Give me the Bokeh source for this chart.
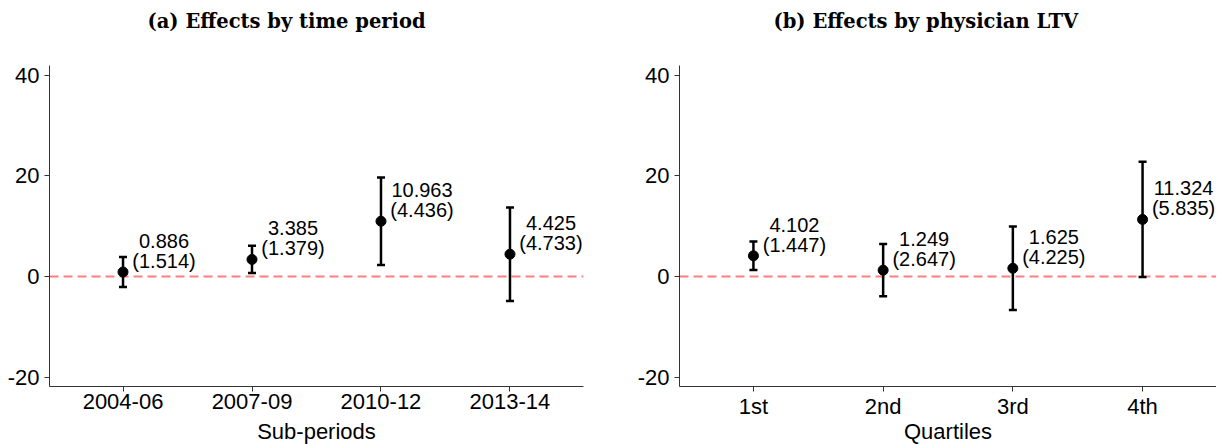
from bokeh.plotting import figure
from bokeh.layouts import row
from bokeh.models import (ColumnDataSource, Range1d, FixedTicker, Span, Whisker,
                          TeeHead, LabelSet, Title)
from bokeh.core.properties import value
from bokeh.embed import file_html
from bokeh.resources import INLINE

# ---- data ----
periods = ["2004-06", "2007-09", "2010-12", "2013-14"]
period_coef = [0.886, 3.385, 10.963, 4.425]
period_se = [1.514, 1.379, 4.436, 4.733]

quartiles = ["1st", "2nd", "3rd", "4th"]
ltv_coef = [4.102, 1.249, 1.625, 11.324]
ltv_se = [1.447, 2.647, 4.225, 5.835]

y_ticks = [-20, 0, 20, 40]
y_tick_labels = ["-20", "0", "20", "40"]
titles = ["(a) Effects by time period", "(b) Effects by physician LTV"]
xlabels = ["Sub-periods", "Quartiles"]
Z = 1.96

SANS = "Liberation Sans"
AXIS_COLOR = "#333333"
FRAME_H = 321
TOP, BOTTOM = 65, 58


def make_panel(cats, coef, se, title, xlabel, frame_w, border_left, border_right,
               title_offset, xlabel_standoff):
    xs = list(range(1, len(cats) + 1))
    src = ColumnDataSource(dict(
        x=xs,
        coef=coef,
        lower=[c - Z * s for c, s in zip(coef, se)],
        upper=[c + Z * s for c, s in zip(coef, se)],
        coef_txt=[f"{c:.3f}" for c in coef],
        se_txt=[f"({s:.3f})" for s in se],
    ))
    p = figure(frame_width=frame_w, frame_height=FRAME_H,
               min_border_left=border_left, min_border_right=border_right,
               min_border_top=TOP, min_border_bottom=BOTTOM,
               x_range=Range1d(0.43, 4.57), y_range=Range1d(-21.85, 41.9),
               toolbar_location=None, output_backend="svg")
    p.grid.visible = False
    p.outline_line_color = None
    p.background_fill_color = "white"
    p.border_fill_color = "white"

    # spacer (closest to the frame) then the panel title above it
    p.add_layout(Title(text=" ", text_font_size="10px", standoff=20), "above")
    p.add_layout(Title(text=title, text_font="DejaVu Serif", text_font_style="bold",
                       text_font_size="19.5px", text_color="black", align="left",
                       offset=title_offset, standoff=0), "above")

    for ax in (p.xaxis, p.yaxis):
        ax.axis_line_color = AXIS_COLOR
        ax.axis_line_width = 1
        ax.major_tick_line_color = AXIS_COLOR
        ax.major_tick_out = 5
        ax.major_tick_in = 0
        ax.minor_tick_line_color = None
        ax.major_label_text_font = SANS
        ax.major_label_text_font_size = "22px"
        ax.major_label_text_color = "black"
    p.xaxis.major_label_standoff = 2
    p.yaxis.major_label_standoff = 5
    p.yaxis.ticker = FixedTicker(ticks=y_ticks)
    p.yaxis.major_label_overrides = {t: s for t, s in zip(y_ticks, y_tick_labels)}
    p.xaxis.ticker = FixedTicker(ticks=xs)
    p.xaxis.major_label_overrides = {x: c for x, c in zip(xs, cats)}
    p.xaxis.axis_label = xlabel
    p.xaxis.axis_label_text_font = SANS
    p.xaxis.axis_label_text_font_size = "22px"
    p.xaxis.axis_label_text_font_style = "normal"
    p.xaxis.axis_label_text_color = "black"
    p.xaxis.axis_label_standoff = xlabel_standoff

    p.add_layout(Span(location=0, dimension="width", line_color="#ff7f7f",
                      line_width=2, line_dash="9 5", level="underlay"))
    p.add_layout(Whisker(source=src, base="x", upper="upper", lower="lower",
                         dimension="height", line_color="black", line_width=2.5,
                         upper_head=TeeHead(size=8, line_width=2.5, line_color="black"),
                         lower_head=TeeHead(size=8, line_width=2.5, line_color="black")))
    p.scatter("x", "coef", source=src, size=10, color="black")

    for field, yoff in (("se_txt", 11), ("coef_txt", 31)):
        p.add_layout(LabelSet(source=src, x="x", y="coef", text=field,
                              x_offset=41, y_offset=yoff,
                              text_align="center", text_baseline="middle",
                              text_font=value(SANS), text_font_size="20px",
                              text_color="black"))
    return p


pa = make_panel(periods, period_coef, period_se, titles[0], xlabels[0], 534, 49, 40, 98, 7)
pb = make_panel(quartiles, ltv_coef, ltv_se, titles[1], xlabels[1], 537, 56, 0, 94, -3)

layout = row(pa, pb, spacing=0)
open("out.html", "w").write(file_html(layout, INLINE))
